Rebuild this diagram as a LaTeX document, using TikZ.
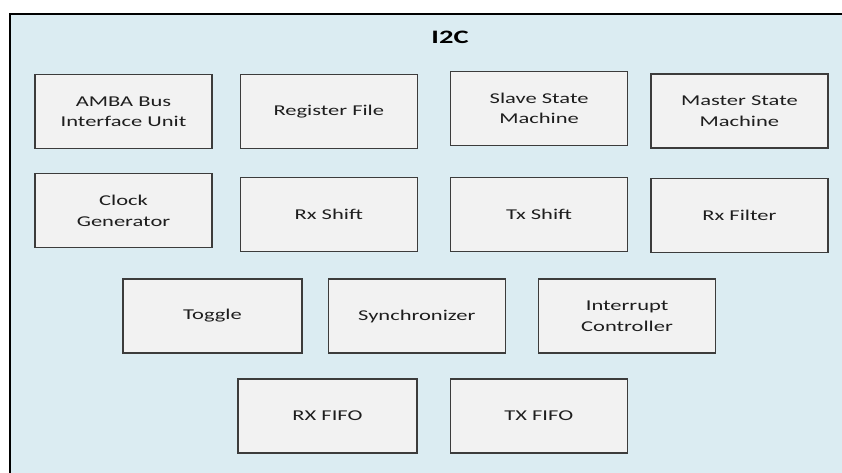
\documentclass[tikz,border=0pt]{standalone}
\usepackage{fontspec}
\setmainfont[FakeStretch=1.5]{Carlito}
\usetikzlibrary{positioning}
\definecolor{lBlue}  {RGB}{219,236,242}
\definecolor{lGray}  {RGB}{242,242,242}
\definecolor{dkGray} {RGB}{60,60,60}
\definecolor{txGray} {RGB}{30,30,30}
\begin{document}
\begin{tikzpicture}[x=1pt, y=-1pt,
    BLK/.style={draw=dkGray, fill=lGray, line width=1.3pt, minimum width=177pt, minimum height=74pt,
                align=center, text=txGray, inner sep=0pt, font=\fontsize{15}{20.5}\selectfont}]
    \useasboundingbox (0,0) rectangle (842,473);
    % frame of the core
    \fill[lBlue] (10,14) rectangle (842,473);
    \draw[line width=2.6pt, black] (10,473) -- (10,14) -- (842,14);
    \node[font=\bfseries\fontsize{19}{20}\selectfont, text=black] (title) at (450,37) {I2C};
    % row 1
    \node[BLK] (amba) at (123.5,111.5) {AMBA Bus\\Interface Unit};
    \node[BLK, right=27pt of amba] (regf) {Register File};
    \node[BLK, right=32pt of regf, yshift=3pt] (slave) {Slave State\\Machine};
    \node[BLK, right=22pt of slave, yshift=-2.5pt] (master) {Master State\\Machine};
    % row 2
    \node[BLK, below=24pt of amba] (clk) {Clock\\Generator};
    \node[BLK, below=28pt of regf] (rxsh) {Rx Shift};
    \node[BLK, below=31pt of slave] (txsh) {Tx Shift};
    \node[BLK, below=29pt of master] (rxfil) {Rx Filter};
    % row 3
    \node[BLK, minimum width=179pt] (tog) at (212.5,316) {Toggle};
    \node[BLK, right=25pt of tog] (sync) {Synchronizer};
    \node[BLK, right=32pt of sync] (intr) {Interrupt\\Controller};
    % row 4
    \node[BLK, minimum width=179pt] (rxfifo) at (327.5,416) {RX FIFO};
    \node[BLK, right=32pt of rxfifo] (txfifo) {TX FIFO};
\end{tikzpicture}
\end{document}
